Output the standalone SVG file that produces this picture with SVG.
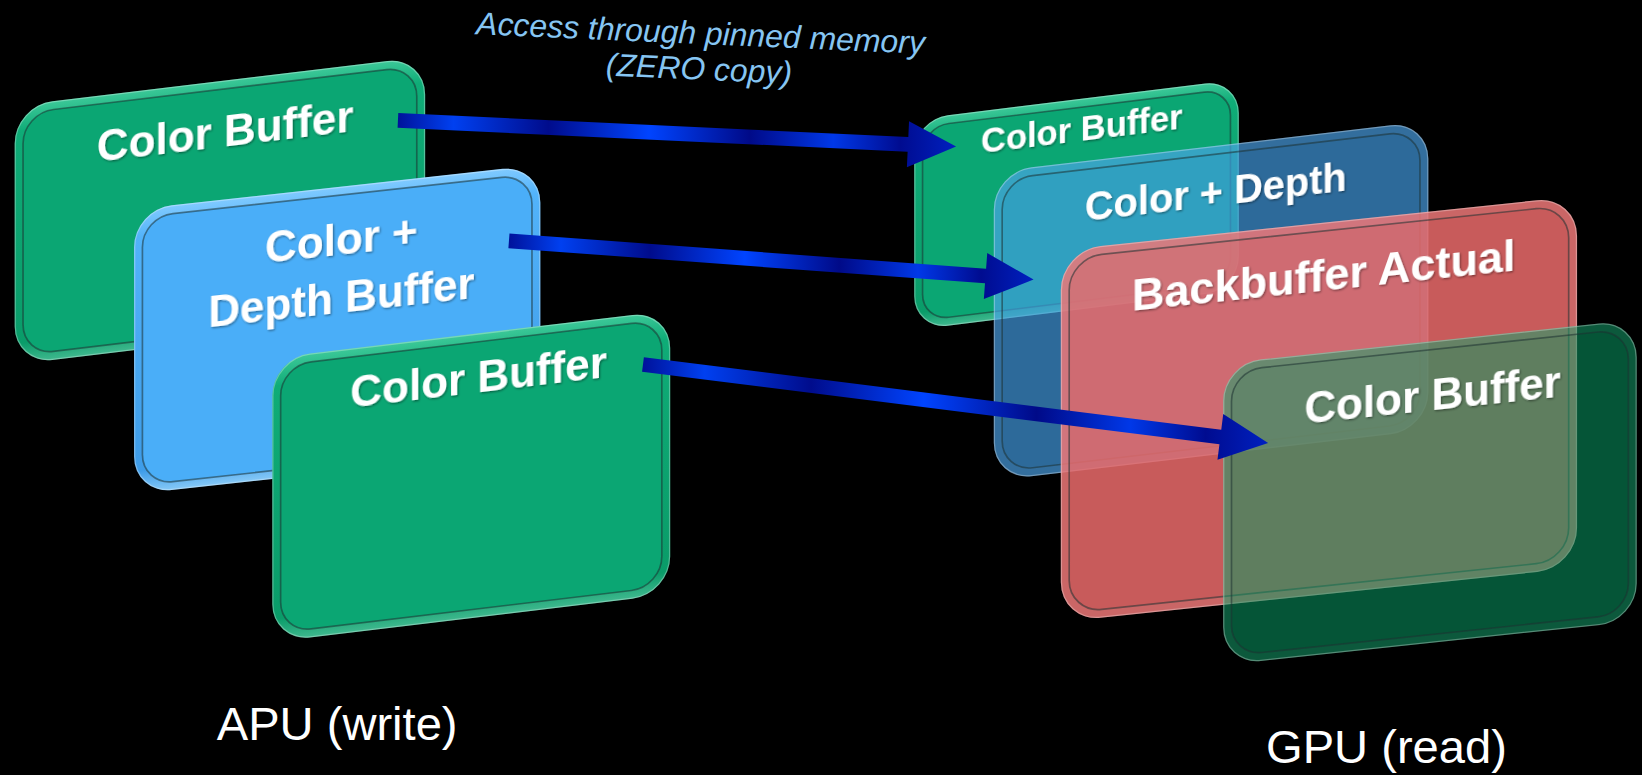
<svg xmlns="http://www.w3.org/2000/svg" width="1642" height="775" viewBox="0 0 1642 775">
<style>
.lbl{font-family:"Liberation Sans",Arial,sans-serif;font-weight:bold;fill:#fff;text-anchor:middle;filter:url(#fShadow)}
.cap{font-family:"Liberation Sans",Arial,sans-serif;fill:#fff;font-size:45px}
.note{font-family:"Liberation Sans",Arial,sans-serif;font-style:italic;fill:#86c5f2;font-size:30.5px;text-anchor:middle}
.inl{fill:none;stroke:rgba(30,50,50,0.55);stroke-width:1.6}
.edge{fill:none;stroke:rgba(255,255,255,0.3);stroke-width:1.2}
.arw{fill:url(#gArrow)}
</style>
<defs>
<filter id="fShadow" x="-5%" y="-20%" width="110%" height="140%">
<feDropShadow dx="1" dy="1.2" stdDeviation="0.8" flood-color="#000" flood-opacity="0.45"/>
</filter>
<linearGradient id="gGreenRim" x1="0" y1="0" x2="0" y2="1">
<stop offset="0" stop-color="#3cc898"/><stop offset="0.1" stop-color="#0fac77"/><stop offset="0.92" stop-color="#0a9c69"/><stop offset="1" stop-color="#3fb88e"/>
</linearGradient>
<linearGradient id="gBlueRim" x1="0" y1="0" x2="0" y2="1">
<stop offset="0" stop-color="#80caff"/><stop offset="0.1" stop-color="#52b3fa"/><stop offset="0.92" stop-color="#3e9ce8"/><stop offset="1" stop-color="#86c9f7"/>
</linearGradient>
<linearGradient id="gArrow" x1="0" y1="0" x2="1" y2="0">
<stop offset="0" stop-color="#00129a"/><stop offset="0.1" stop-color="#0040f0"/><stop offset="0.27" stop-color="#000c8c"/><stop offset="0.45" stop-color="#0044ff"/><stop offset="0.63" stop-color="#000a88"/><stop offset="0.78" stop-color="#0038e8"/><stop offset="0.9" stop-color="#000c90"/><stop offset="1" stop-color="#0020c0"/>
</linearGradient>
</defs>
<rect width="1642" height="775" fill="#000"/>
<g transform="scale(1.04719)">
<!-- left side (APU) -->
<g id="apu-color-buffer-1" transform="translate(14,101) skewY(-6.84)">
<rect width="392" height="247" rx="36" fill="url(#gGreenRim)"/>
<rect x="0.6" y="0.6" width="390.8" height="245.8" rx="35.5" class="edge"/>
<rect x="8" y="8" width="376" height="231" rx="29" fill="#0ba673"/>
<rect x="8" y="8" width="376" height="231" rx="29" class="inl"/>
<text class="lbl" x="201" y="63" font-size="42">Color Buffer</text>
</g>
<g id="apu-color-depth-buffer" transform="translate(128,200) skewY(-6.28)">
<rect width="388" height="272" rx="36" fill="url(#gBlueRim)"/>
<rect x="0.6" y="0.6" width="386.8" height="270.8" rx="35.5" class="edge"/>
<rect x="8" y="8" width="372" height="256" rx="29" fill="#4aaef8"/>
<rect x="8" y="8" width="372" height="256" rx="29" class="inl"/>
<text class="lbl" x="198" y="65" font-size="42">Color +</text>
<text class="lbl" x="198" y="120" font-size="42">Depth Buffer</text>
</g>
<g id="apu-color-buffer-2" transform="translate(260,342) skewY(-6.84)">
<rect width="380" height="271" rx="36" fill="url(#gGreenRim)"/>
<rect x="0.6" y="0.6" width="378.8" height="269.8" rx="35.5" class="edge"/>
<rect x="8" y="8" width="364" height="255" rx="29" fill="#0ba673"/>
<rect x="8" y="8" width="364" height="255" rx="29" class="inl"/>
<text class="lbl" x="197" y="56" font-size="42">Color Buffer</text>
</g>
<!-- right side (GPU) -->
<g id="gpu-color-buffer-1" transform="translate(873,114) skewY(-7.01)">
<rect width="310" height="201" rx="32" fill="url(#gGreenRim)"/>
<rect x="0.6" y="0.6" width="308.8" height="199.8" rx="31.5" class="edge"/>
<rect x="8" y="8" width="294" height="185" rx="25" fill="#0ba673"/>
<rect x="8" y="8" width="294" height="185" rx="25" class="inl"/>
<text class="lbl" x="160" y="40" font-size="33">Color Buffer</text>
</g>
<g id="gpu-color-depth" transform="translate(949,164) skewY(-6.67)">
<g opacity="0.67">
<rect width="415" height="295" rx="36" fill="#4ca4ea"/>
<rect x="8" y="8" width="399" height="279" rx="29" fill="#439ee6"/>
</g>
<rect x="0.6" y="0.6" width="413.8" height="293.8" rx="35.5" class="edge"/>
<rect x="8" y="8" width="399" height="279" rx="29" class="inl"/>
<text class="lbl" x="212" y="57" font-size="38">Color + Depth</text>
</g>
<g id="gpu-backbuffer-actual" transform="translate(1013,239) skewY(-6.0)">
<g opacity="0.85">
<rect width="493" height="355" rx="38" fill="#ee7878"/>
<rect x="8" y="8" width="477" height="339" rx="31" fill="#ec6c6c"/>
</g>
<rect x="0.6" y="0.6" width="491.8" height="353.8" rx="37.5" class="edge"/>
<rect x="8" y="8" width="477" height="339" rx="31" class="inl"/>
<text class="lbl" x="251" y="65" font-size="43">Backbuffer Actual</text>
</g>
<g id="gpu-color-buffer-2" transform="translate(1168,347) skewY(-6.05)">
<g opacity="0.55">
<rect width="395" height="288" rx="36" fill="#16a36e"/>
<rect x="8" y="8" width="379" height="272" rx="29" fill="#0a9b64"/>
</g>
<rect x="0.6" y="0.6" width="393.8" height="286.8" rx="35.5" class="edge"/>
<rect x="8" y="8" width="379" height="272" rx="29" class="inl"/>
<text class="lbl" x="200" y="66" font-size="42">Color Buffer</text>
</g>
<!-- connectors -->
<g id="connectors">
<polygon class="arw" points="380.33,108.01 867.38,130.85 868.08,115.86 913,140 866.02,159.82 866.72,144.83 379.67,121.99"/>
<polygon class="arw" points="486.52,223.02 941.65,256.63 942.75,241.67 987,267 939.51,285.55 940.61,270.59 485.48,236.98"/>
<polygon class="arw" points="614.87,341.05 1166.23,410.32 1168.10,395.44 1211,423 1162.62,439.10 1164.49,424.22 613.13,354.95"/>
</g>
<!-- labels -->
<g id="note" transform="rotate(2.5 668 55)">
<text class="note" x="668" y="42">Access through pinned memory</text>
<text class="note" x="668" y="76">(ZERO copy)</text>
</g>
<text id="apu-label" class="cap" x="207" y="707">APU (write)</text>
<text id="gpu-label" class="cap" x="1209" y="729">GPU (read)</text>
</g>
</svg>
